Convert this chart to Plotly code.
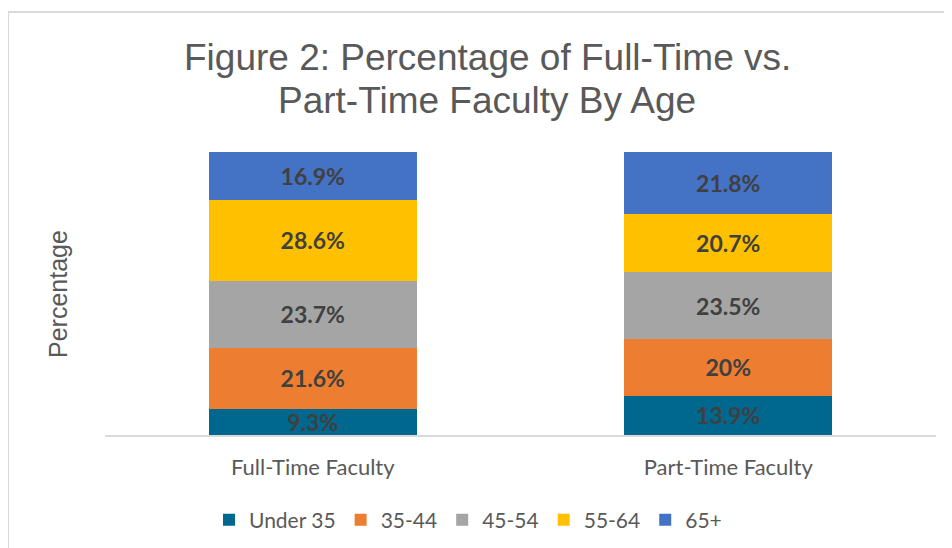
import plotly.graph_objects as go

# Figure 2 data: share of faculty in each age band
categories = ['Full-Time Faculty', 'Part-Time Faculty']
age_groups = ['Under 35', '35-44', '45-54', '55-64', '65+']
full_time = [9.3, 21.6, 23.7, 28.6, 16.9]
part_time = [13.9, 20, 23.5, 20.7, 21.8]
colors = ['#00678f', '#ed7d31', '#a5a5a5', '#ffc000', '#4472c4']

TEXT_GREY = '#595959'
LABEL_GREY = '#404040'
BORDER = '#d9d9d9'

# the page body adds an 8px margin, so work in page pixels and shift
OFF = 8
W, H = 952 - OFF, 548 - OFF
L, R, T, B = 105 - OFF, 16, 152 - OFF, 548 - 435
pw, ph = W - L - R, H - T - B


def px_x(x):
    return (x - OFF - L) / pw


def px_y(y):
    return (H - B - (y - OFF)) / ph


fig = go.Figure()
for i, grp in enumerate(age_groups):
    vals = [full_time[i], part_time[i]]
    fig.add_trace(go.Bar(
        x=categories,
        y=vals,
        name=grp,
        marker=dict(color=colors[i], line=dict(width=0)),
        text=[f'{v:g}%' for v in vals],
        texttemplate='%{text}',
        textposition='inside',
        insidetextanchor='middle',
        textangle=0,
        constraintext='none',
        textfont=dict(family='Lato', size=23, color=LABEL_GREY, weight='bold'),
        hoverinfo='skip',
    ))

# outer chart frame (cropped on the right and bottom)
shapes = [
    dict(type='rect', xref='paper', yref='paper',
         x0=px_x(8), x1=px_x(980), y0=px_y(12), y1=px_y(580),
         line=dict(color=BORDER, width=2), fillcolor='rgba(0,0,0,0)', layer='below'),
]

title_font = dict(family='Liberation Sans', size=37, color=TEXT_GREY)

fig.update_layout(
    width=W, height=H,
    margin=dict(l=L, r=R, t=T, b=B, autoexpand=False),
    paper_bgcolor='white',
    plot_bgcolor='white',
    barmode='stack',
    barnorm='percent',
    bargap=0.5,
    xaxis=dict(
        showline=True, linecolor=BORDER, linewidth=2,
        showgrid=False, ticks='outside', ticklen=12,
        tickcolor='rgba(0,0,0,0)',
        tickfont=dict(family='Lato', size=22, color=TEXT_GREY),
        automargin=False, fixedrange=True,
    ),
    yaxis=dict(
        range=[0, 100], showticklabels=False, showgrid=False,
        zeroline=False, showline=False, automargin=False, fixedrange=True,
    ),
    legend=dict(
        orientation='h', traceorder='normal',
        x=px_x(468), xanchor='center',
        y=1 - (520 - OFF) / H, yanchor='middle', yref='container',
        font=dict(family='Lato', size=21, color=TEXT_GREY),
        itemwidth=30,
    ),
    annotations=[
        dict(text='Figure 2: Percentage of Full-Time vs.', xref='paper', yref='paper',
             x=px_x(487), y=px_y(57), xanchor='center', yanchor='middle',
             showarrow=False, font=title_font),
        dict(text='Part-Time Faculty By Age', xref='paper', yref='paper',
             x=px_x(487), y=px_y(100), xanchor='center', yanchor='middle',
             showarrow=False, font=title_font),
        dict(text='Percentage', xref='paper', yref='paper',
             x=px_x(58), y=px_y(294), xanchor='center', yanchor='middle',
             textangle=-90, showarrow=False,
             font=dict(family='Liberation Sans', size=25, color=TEXT_GREY)),
    ],
    shapes=shapes,
    showlegend=True,
)

fig.write_html('out.html')
